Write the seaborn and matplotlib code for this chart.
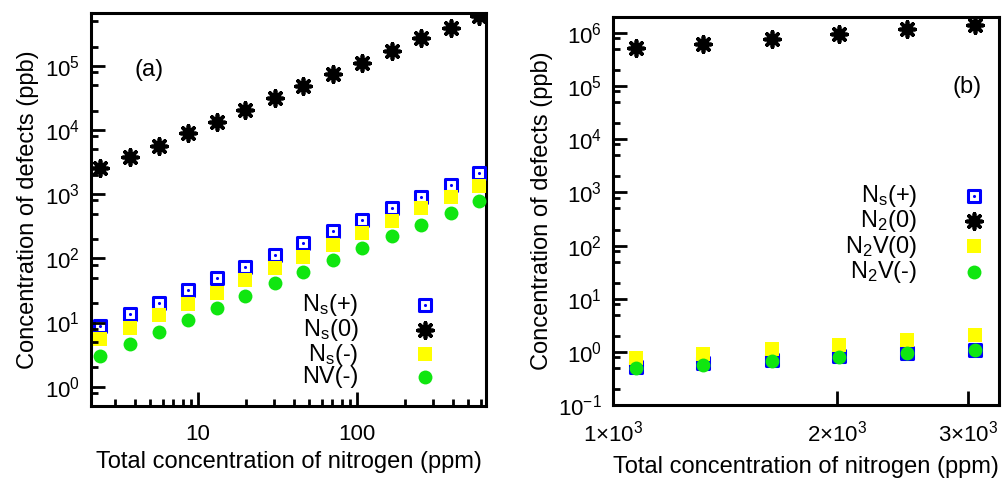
import numpy as np
import pandas as pd
import matplotlib
matplotlib.use("Agg")
import matplotlib.pyplot as plt
import matplotlib.ticker as mticker
from matplotlib.legend_handler import HandlerTuple
import seaborn as sns

# panel (a): total nitrogen (ppm) vs defect concentration (ppb)
n_tot_a = [2.42, 3.73, 5.69, 8.65, 13.2, 19.8, 30.5, 45.7, 70.6, 107, 166, 253, 390, 585]
ns_plus_a = [8.97, 13.8, 20.5, 31.6, 48.7, 72.3, 111, 171, 264, 392, 604, 898, 1380, 2130]
ns_zero_a = [2550, 3790, 5620, 8980, 13300, 20500, 31600, 48700, 75000,
             111000, 171000, 274000, 392000, 604000]
ns_minus_a = [5.62, 8.35, 12.9, 19.8, 29.4, 45.3, 69.8, 107, 160, 246, 378, 604, 898, 1330]
nv_minus_a = [3.05, 4.70, 7.23, 11.1, 17.1, 25.5, 40.7, 60.4, 93, 143, 221, 328, 506, 778]

# panel (b)
n_tot_b = [1074, 1321, 1636, 2013, 2484, 3066]
ns_plus_b = [0.52, 0.62, 0.71, 0.84, 0.96, 1.09]
n2_zero_b = [525000, 623000, 773000, 958000, 1190000, 1410000]
n2v_zero_b = [0.77, 0.92, 1.14, 1.35, 1.68, 2.08]
n2v_minus_b = [0.50, 0.57, 0.68, 0.80, 0.96, 1.09]

labels_a = ["N$_\\mathrm{s}$(+)", "N$_\\mathrm{s}$(0)", "N$_\\mathrm{s}$(-)", "NV(-)"]
labels_b = ["N$_\\mathrm{s}$(+)", "N$_2$(0)", "N$_2$V(0)", "N$_2$V(-)"]
xticks_a = [10, 100]
xticklabels_a = ["10", "100"]
xticks_b = [1000, 2000, 3000]
xticklabels_b = ["1$\\times$10$^3$", "2$\\times$10$^3$", "3$\\times$10$^3$"]

BLUE = "#0000ff"
YELLOW = "#ffff00"
GREEN = "#10e610"

sns.set_style("ticks")
plt.rcParams.update({
    "font.family": ["Liberation Sans", "DejaVu Sans"],
    "mathtext.fontset": "custom",
    "mathtext.rm": "Liberation Sans",
    "mathtext.it": "Liberation Sans:italic",
    "mathtext.bf": "Liberation Sans:bold",
    "text.color": "black",
    "axes.labelcolor": "black",
    "xtick.color": "black",
    "ytick.color": "black",
    "xtick.labelsize": 16,
    "ytick.labelsize": 16,
})

fig = plt.figure(figsize=(10.03, 4.79), dpi=100)
ax_a = fig.add_axes([0.0907, 0.1524, 0.3938, 0.8205])
ax_b = fig.add_axes([0.6112, 0.1545, 0.3850, 0.8100])


def draw_panel(ax, x, series):
    sq_plus, star, sq_fill, circ = series
    df = pd.DataFrame({"x": x, "p": sq_plus, "z": star, "m": sq_fill, "c": circ})
    sns.scatterplot(data=df, x="x", y="p", ax=ax, marker="s", s=72,
                    facecolor="white", edgecolor=BLUE, linewidth=2.2, zorder=3)
    h1 = ax.collections[-1]
    sns.scatterplot(data=df, x="x", y="p", ax=ax, marker="o", s=5,
                    color=BLUE, linewidth=0, zorder=3)
    h1d = ax.collections[-1]
    sns.scatterplot(data=df, x="x", y="z", ax=ax, marker=(8, 2, 0), s=120,
                    color="black", edgecolor="black", linewidth=2.7, zorder=3)
    h2 = ax.collections[-1]
    sns.scatterplot(data=df, x="x", y="m", ax=ax, marker="s", s=100,
                    color=YELLOW, linewidth=0, zorder=3)
    h3 = ax.collections[-1]
    sns.scatterplot(data=df, x="x", y="c", ax=ax, marker="o", s=100,
                    color=GREEN, linewidth=0, zorder=3)
    h4 = ax.collections[-1]
    ax.set_xscale("log")
    ax.set_yscale("log")
    ax.set_xlabel("Total concentration of nitrogen (ppm)", fontsize=17)
    ax.set_ylabel("Concentration of defects (ppb)", fontsize=17, labelpad=4)
    for sp in ax.spines.values():
        sp.set_linewidth(2.2)
        sp.set_color("black")
    ax.yaxis.set_major_locator(mticker.LogLocator(base=10, numticks=20))
    ax.yaxis.set_minor_locator(mticker.LogLocator(base=10, subs=[2, 5, 8], numticks=20))
    ax.yaxis.set_minor_formatter(mticker.NullFormatter())
    return [(h1, h1d), h2, h3, h4]


handles_a = draw_panel(ax_a, n_tot_a, [ns_plus_a, ns_zero_a, ns_minus_a, nv_minus_a])
ax_a.set_xlim(2.12, 646)
ax_a.set_ylim(0.5, 6.7e5)
ax_a.set_xticks(xticks_a, xticklabels_a)
ax_a.xaxis.set_minor_locator(mticker.LogLocator(base=10, subs=np.arange(2, 10), numticks=20))
ax_a.xaxis.set_minor_formatter(mticker.NullFormatter())
ax_a.text(0.11, 0.855, "(a)", transform=ax_a.transAxes, fontsize=17, va="center")
ax_a.legend(handles_a, labels_a, markerfirst=False, frameon=False, fontsize=17,
            loc="upper left", bbox_to_anchor=(0.535, 0.29), borderaxespad=0,
            borderpad=0, handlelength=1.0, handletextpad=2.3, labelspacing=-0.05,
            handler_map={tuple: HandlerTuple(ndivide=1)})

handles_b = draw_panel(ax_b, n_tot_b, [ns_plus_b, n2_zero_b, n2v_zero_b, n2v_minus_b])
ax_b.set_xlim(1000, 3300)
ax_b.set_ylim(0.1, 2.0e6)
ax_b.set_xticks(xticks_b, xticklabels_b)
ax_b.xaxis.set_minor_locator(mticker.NullLocator())
ax_b.text(0.955, 0.82, "(b)", transform=ax_b.transAxes, fontsize=17, va="center", ha="right")
ax_b.legend(handles_b, labels_b, markerfirst=False, frameon=False, fontsize=17,
            loc="upper left", bbox_to_anchor=(0.6, 0.572), borderaxespad=0,
            borderpad=0, handlelength=1.0, handletextpad=1.9, labelspacing=-0.03,
            handler_map={tuple: HandlerTuple(ndivide=1)})

# ticks: gnuplot-like, pointing inwards, only on left and bottom
for ax in (ax_a, ax_b):
    ax.set_axisbelow(False)
    ax.xaxis.set_zorder(5)
    ax.yaxis.set_zorder(5)
    ax.tick_params(which="both", direction="in", top=False, right=False,
                   left=True, bottom=True, width=2.0, color="black")
    ax.tick_params(which="major", length=10)
    ax.tick_params(which="minor", length=5)
    ax.tick_params(axis="y", which="major", pad=8)
ax_a.tick_params(axis="x", which="major", pad=13)
ax_b.tick_params(axis="x", which="major", pad=11)
ax_a.xaxis.labelpad = 4
ax_b.xaxis.labelpad = 7

fig.savefig("out.png", dpi=100)
